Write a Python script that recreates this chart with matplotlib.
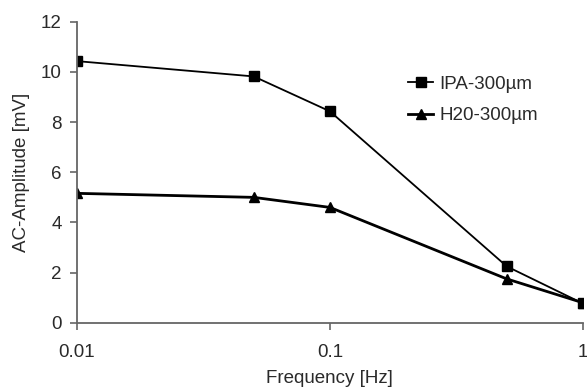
import matplotlib.pyplot as plt

plt.rcParams['font.family'] = ['Liberation Sans', 'DejaVu Sans']

# Дані
freq = [0.01, 0.05, 0.1, 0.5, 1.0]
ipa_amp = [10.43, 9.82, 8.43, 2.25, 0.77]
h2o_amp = [5.16, 5.0, 4.6, 1.75, 0.8]

x_ticks = [0.01, 0.1, 1]
x_tick_labels = ["0.01", "0.1", "1"]
y_ticks = [0, 2, 4, 6, 8, 10, 12]

fs = 13.5
text_color = "#2a2a2a"

fig = plt.figure(figsize=(5.87, 3.88), dpi=100)
ax = fig.add_axes([0.131, 0.168, 0.862, 0.776])

ax.plot(freq, ipa_amp, color="black", linewidth=1.3, marker="s",
        markersize=6.5, label="IPA-300µm")
ax.plot(freq, h2o_amp, color="black", linewidth=2.0, marker="^",
        markersize=7, label="H20-300µm")

ax.set_xscale("log")
ax.set_xlim(0.01, 1)
ax.set_ylim(0, 12)
ax.set_xticks(x_ticks)
ax.set_xticklabels(x_tick_labels)
ax.minorticks_off()
ax.set_yticks(y_ticks)

axis_color = "#666666"
for side in ["top", "right"]:
    ax.spines[side].set_visible(False)
for side in ["left", "bottom"]:
    ax.spines[side].set_color(axis_color)
    ax.spines[side].set_linewidth(1.3)
ax.tick_params(axis="both", colors=axis_color, labelcolor=text_color,
               labelsize=fs, length=5, width=1.2, direction="out")
ax.tick_params(axis="x", pad=10)
ax.tick_params(axis="y", pad=6)

ax.set_xlabel("Frequency [Hz]", fontsize=fs, color=text_color, labelpad=7)
ax.set_ylabel("AC-Amplitude [mV]", fontsize=fs, color=text_color, labelpad=8)

ax.legend(loc="upper left", bbox_to_anchor=(0.655, 0.82), frameon=False,
          fontsize=fs, handlelength=1.3, handletextpad=0.35,
          labelspacing=0.75, borderpad=0, borderaxespad=0,
          labelcolor=text_color)

fig.savefig("out.png", dpi=100)
